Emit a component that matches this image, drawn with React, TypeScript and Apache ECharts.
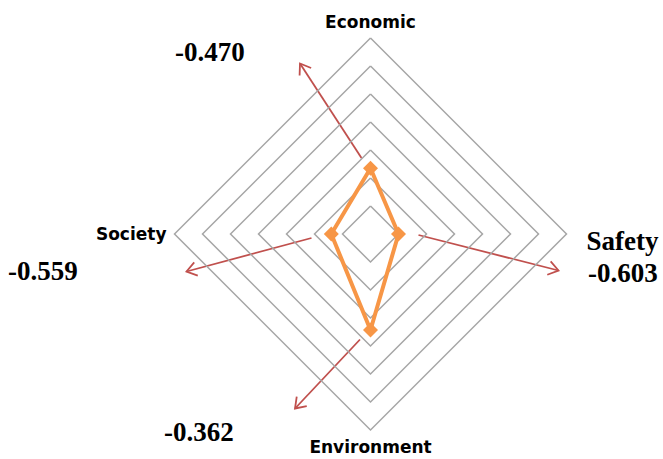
import React, { useEffect, useRef } from "react";
import * as echarts from "echarts";

// Indicators in ECharts' counter-clockwise order starting from the top
const indicatorNames = ["Economic", "Society", "Environment", "Safety"];
const axisMax = 7;
const seriesValues = [2.35, 1.4, 3.43, 1.0];

// Annotation texts (loadings) shown next to the red arrows
const loadingLabels = ["-0.470", "-0.559", "-0.362", "-0.603"];

const CX = 370.5;
const CY = 234;
const R = 196;

// Arrow annotations (start and end relative to the radar centre)
const arrows = [
  { from: [-9, -76], to: [-70.5, -170.5] },
  { from: [-59, 4], to: [-184, 37.5] },
  { from: [-10.5, 105.5], to: [-75.5, 174.5] },
  { from: [48, 1], to: [188, 36.5] },
];
const labelPos = [
  { x: 175, y: 52 },
  { x: 8, y: 271 },
  { x: 164, y: 432 },
  { x: 588, y: 273 },
];

function arrowGraphics() {
  const out: any[] = [];
  const color = "#C0504D";
  arrows.forEach((a) => {
    const x1 = CX + a.from[0];
    const y1 = CY + a.from[1];
    const x2 = CX + a.to[0];
    const y2 = CY + a.to[1];
    out.push({
      type: "line",
      shape: { x1, y1, x2, y2 },
      style: { stroke: color, lineWidth: 1.8 },
      silent: true,
    });
    const ang = Math.atan2(y2 - y1, x2 - x1);
    const L = 12;
    const spread = (35 * Math.PI) / 180;
    const p1 = [x2 - L * Math.cos(ang - spread), y2 - L * Math.sin(ang - spread)];
    const p2 = [x2 - L * Math.cos(ang + spread), y2 - L * Math.sin(ang + spread)];
    out.push({
      type: "polyline",
      shape: { points: [p1, [x2, y2], p2] },
      style: { stroke: color, lineWidth: 1.8, fill: null },
      silent: true,
    });
  });
  loadingLabels.forEach((t, i) => {
    out.push({
      type: "text",
      x: labelPos[i].x,
      y: labelPos[i].y,
      style: {
        text: t,
        font: 'bold 27px "Liberation Serif", "Times New Roman", serif',
        fill: "#000",
        verticalAlign: "middle",
        align: "left",
      },
      silent: true,
    });
  });
  return out;
}

export default function App() {
  const ref = useRef<HTMLDivElement>(null);
  useEffect(() => {
    if (!ref.current) return;
    const chart = echarts.init(ref.current, undefined, { renderer: "svg" });
    chart.setOption({
      animation: false,
      backgroundColor: "#fff",
      radar: {
        center: [CX, CY],
        radius: R,
        startAngle: 90,
        shape: "polygon",
        splitNumber: 7,
        indicator: indicatorNames.map((n) => ({ name: n, min: 0, max: axisMax })),
        axisLine: { show: false },
        axisTick: { show: false },
        axisLabel: { show: false },
        splitArea: { show: false },
        splitLine: { lineStyle: { color: "#A6A6A6", width: 1.5 } },
        nameGap: 8,
        axisName: {
          color: "#000",
          formatter: (name: string) =>
            name === "Safety" ? `{s|${name}}` : `{n|${name}}`,
          rich: {
            n: {
              fontFamily: '"DejaVu Sans", sans-serif',
              fontWeight: "bold",
              fontSize: 17,
              color: "#000",
            },
            s: {
              fontFamily: '"Liberation Serif", "Times New Roman", serif',
              fontWeight: "bold",
              fontSize: 27,
              color: "#000",
              padding: [14, 0, 0, 12],
            },
          },
        },
      },
      series: [
        {
          type: "radar",
          symbol: "diamond",
          symbolSize: 15,
          lineStyle: { color: "#F79646", width: 4 },
          itemStyle: { color: "#F79646" },
          data: [{ value: seriesValues, name: "Score" }],
        },
      ],
      graphic: arrowGraphics(),
    });
    return () => chart.dispose();
  }, []);
  return (
    <div
      ref={ref}
      style={{ position: "absolute", left: 0, top: 0, width: 663, height: 459 }}
    />
  );
}
